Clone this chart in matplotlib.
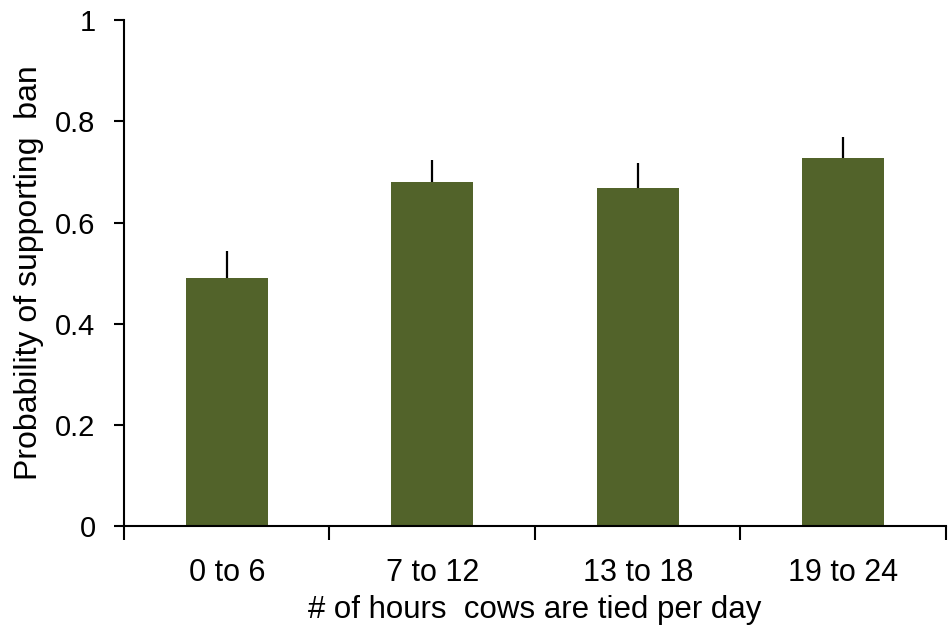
import matplotlib.pyplot as plt
import numpy as np

plt.rcParams['font.family'] = ['Liberation Sans', 'DejaVu Sans']

categories = ["0 to 6", "7 to 12", "13 to 18", "19 to 24"]
probability = [0.490, 0.680, 0.669, 0.728]
err_upper = [0.054, 0.043, 0.049, 0.041]

x = np.arange(len(categories))
fig = plt.figure(figsize=(9.51, 6.3), dpi=100)
ax = fig.add_axes([0.1304, 0.165, 0.8643, 0.803])

ax.bar(x, probability, 0.4, color="#52632a", zorder=2)
ax.errorbar(x, probability, yerr=[np.zeros(len(x)), err_upper], fmt="none",
            ecolor="black", elinewidth=1.6, capsize=0, zorder=1)

ax.set_xlim(-0.5, len(categories) - 0.5)
ax.set_ylim(0, 1)
ax.set_yticks([0, 0.2, 0.4, 0.6, 0.8, 1])
ax.set_yticklabels(["0", "0.2", "0.4", "0.6", "0.8", "1"])
ax.set_xticks(x)
ax.set_xticklabels(categories)
ax.set_xticks(np.arange(len(categories) + 1) - 0.5, minor=True)

ax.tick_params(axis="x", which="major", length=0, pad=23, labelsize=22)
ax.tick_params(axis="x", which="minor", length=10, width=1.5, direction="out")
ax.tick_params(axis="y", length=7.5, width=1.5, direction="out", pad=13, labelsize=21)

for s in ["top", "right"]:
    ax.spines[s].set_visible(False)
for s in ["left", "bottom"]:
    ax.spines[s].set_linewidth(1.5)

ax.set_ylabel("Probability of supporting  ban", fontsize=23, labelpad=8)
ax.set_xlabel("# of hours  cows are tied per day", fontsize=22.5, labelpad=5)

fig.savefig("out.png", dpi=100)
